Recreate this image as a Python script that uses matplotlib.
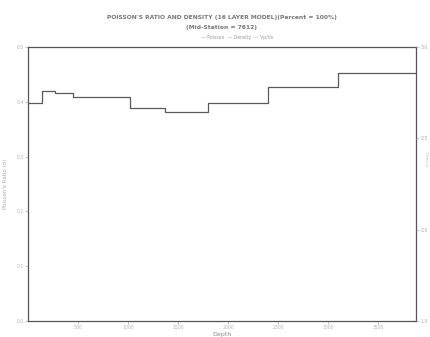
import matplotlib
matplotlib.use("Agg")
import matplotlib.pyplot as plt

# layer tops (depth) and Poisson's ratio per layer
depth_tops = [0, 140, 270, 450, 1020, 1370, 1800, 2400, 3100]
depth_end = 3880
poisson = [0.397, 0.419, 0.416, 0.408, 0.388, 0.381, 0.397, 0.427, 0.452]

x_ticks = [500, 1000, 1500, 2000, 2500, 3000, 3500]
left_ticks = [0.0, 0.1, 0.2, 0.3, 0.4, 0.5]
right_ticks = [1.5, 2.0, 2.5, 3.0]

title_1 = "POISSON'S RATIO AND DENSITY (16 LAYER MODEL)(Percent = 100%)"
title_2 = "(Mid-Station = 7612)"
legend_txt = "\u2014 Poisson  \u2014 Density  \u2014 Vp/Vs"

txt = "#8a8a8a"

fig = plt.figure(figsize=(4.3, 3.37), dpi=100)
ax = fig.add_axes([28 / 430, 1 - 321 / 337, (416 - 28) / 430, (321 - 47) / 337])

xs = depth_tops + [depth_end]
ys = poisson + [poisson[-1]]
ax.step(xs, ys, where="post", color="#5a5a5a", lw=0.9)

ax.set_xlim(0, depth_end)
ax.set_ylim(0, 0.5)
ax.set_xticks(x_ticks)
ax.set_yticks(left_ticks)
ax.tick_params(labelsize=3.3, colors="#aaaaaa", length=2, width=0.5, pad=1)
for lab in ax.get_xticklabels() + ax.get_yticklabels():
    lab.set_color("#b5b5b5")
for s in ax.spines.values():
    s.set_color("#555555")
    s.set_linewidth(0.9)

ax.set_xlabel("Depth", fontsize=4.5, color=txt, labelpad=1)
ax.set_ylabel("Poisson's Ratio (\u03c3)", fontsize=4, color="#aaaaaa", labelpad=6)

ax2 = ax.twinx()
ax2.set_ylim(1.5, 3.0)
ax2.set_yticks(right_ticks)
ax2.tick_params(labelsize=3.3, colors="#aaaaaa", length=2, width=0.5, pad=1)
for s in ax2.spines.values():
    s.set_visible(False)

# right axis label placed by hand so it stays inside the canvas
fig.text(426 / 430, 1 - 160 / 337, "Density", rotation=270, ha="center",
         va="center", fontsize=3, color="#c0c0c0")

fig.text(222 / 430, 1 - 17 / 337, title_1, ha="center", va="center",
         fontsize=4.3, color="#777777", fontweight="bold")
fig.text(222 / 430, 1 - 27 / 337, title_2, ha="center", va="center",
         fontsize=4.3, color="#777777", fontweight="bold")
fig.text(237 / 430, 1 - 37 / 337, legend_txt, ha="center", va="center",
         fontsize=3.3, color="#9a9a9a")

fig.savefig("out.png", dpi=100)
